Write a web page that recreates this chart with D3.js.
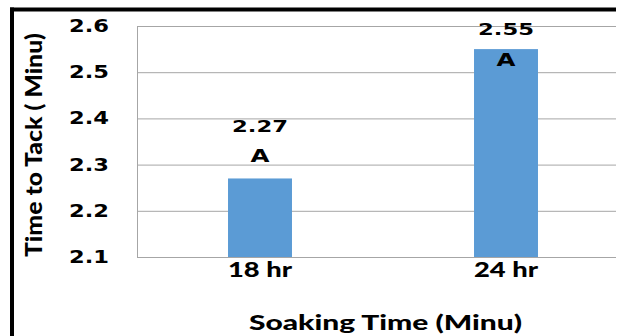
<!DOCTYPE html>
<html>
<head>
<meta charset="utf-8">
<script src="https://cdn.jsdelivr.net/npm/d3@7"></script>
<style>
  html, body { margin: 0; padding: 0; background: #fff; overflow: hidden; }
  svg { display: block; overflow: hidden; }
</style>
</head>
<body>
<svg id="chart" width="617" height="336"></svg>
<script>
// Soaking time vs. time to tack
const categories = ["18 hr", "24 hr"];
const values = [2.27, 2.55];
const letters = ["A", "A"];
const yTicks = [2.1, 2.2, 2.3, 2.4, 2.5, 2.6];

const W = 617, H = 336;
const svg = d3.select("#chart");
const numFont = "'DejaVu Sans', Verdana, sans-serif";
const txtFont = "Lato, 'Open Sans', sans-serif";

// Plot area runs past the right edge of the view
const plot = { left: 137, right: 629, top: 26, bottom: 257 };

const x = d3.scaleBand()
  .domain(categories)
  .range([plot.left, plot.right])
  .paddingInner(0.74)
  .paddingOuter(0.37);

const y = d3.scaleLinear()
  .domain([2.1, 2.6])
  .range([plot.bottom, plot.top]);

// Gridlines
svg.append("g")
  .selectAll("line")
  .data(yTicks)
  .join("line")
  .attr("x1", plot.left)
  .attr("x2", W - 1)
  .attr("y1", d => y(d) + 0.5)
  .attr("y2", d => y(d) + 0.5)
  .attr("stroke", "#a6a6a6")
  .attr("stroke-width", 1);

// Left axis line
svg.append("line")
  .attr("x1", plot.left + 0.5).attr("x2", plot.left + 0.5)
  .attr("y1", plot.top).attr("y2", plot.bottom + 1)
  .attr("stroke", "#a6a6a6");

// Bars
svg.append("g")
  .selectAll("rect")
  .data(values)
  .join("rect")
  .attr("x", (d, i) => x(categories[i]))
  .attr("width", x.bandwidth())
  .attr("y", d => y(d))
  .attr("height", d => y(2.1) - y(d))
  .attr("fill", "#5b9bd5");

// Y tick labels
svg.append("g")
  .selectAll("text")
  .data(yTicks)
  .join("text")
  .attr("x", 109)
  .attr("y", d => y(d) + 6)
  .attr("text-anchor", "end")
  .attr("font-family", numFont)
  .attr("font-weight", "bold")
  .attr("font-size", 17)
  .attr("textLength", 40)
  .attr("lengthAdjust", "spacingAndGlyphs")
  .text(d => d.toFixed(1));

// Value labels and letter groups
values.forEach((v, i) => {
  const cx = x(categories[i]) + x.bandwidth() / 2;
  const top = y(v);
  const roomAbove = top - plot.top > 40;
  const valueY = roomAbove ? top - 46.5 : top - 14;
  const letterY = roomAbove ? top - 16.5 : top + 17;
  svg.append("text")
    .attr("x", cx)
    .attr("y", valueY)
    .attr("text-anchor", "middle")
    .attr("font-family", numFont)
    .attr("font-weight", "bold")
    .attr("font-size", 16.5)
    .attr("textLength", 56)
    .attr("lengthAdjust", "spacingAndGlyphs")
    .text(v.toFixed(2));
  svg.append("text")
    .attr("x", cx)
    .attr("y", letterY)
    .attr("text-anchor", "middle")
    .attr("font-family", numFont)
    .attr("font-weight", "bold")
    .attr("font-size", 17.5)
    .attr("textLength", 19)
    .attr("lengthAdjust", "spacingAndGlyphs")
    .text(letters[i]);
});

// X category labels
svg.append("g")
  .selectAll("text")
  .data(categories)
  .join("text")
  .attr("x", d => x(d) + x.bandwidth() / 2)
  .attr("y", 277)
  .attr("text-anchor", "middle")
  .attr("font-family", txtFont)
  .attr("font-weight", 900)
  .attr("font-size", 21)
  .attr("textLength", 64)
  .attr("lengthAdjust", "spacingAndGlyphs")
  .text(d => d);

// Axis titles
svg.append("text")
  .attr("x", 385.5)
  .attr("y", 330)
  .attr("text-anchor", "middle")
  .attr("font-family", txtFont)
  .attr("font-weight", 900)
  .attr("font-size", 21)
  .attr("textLength", 273)
  .attr("lengthAdjust", "spacingAndGlyphs")
  .text("Soaking Time (Minu)");

svg.append("text")
  .attr("transform", "translate(42,145) rotate(-90)")
  .attr("text-anchor", "middle")
  .attr("font-family", txtFont)
  .attr("font-weight", 900)
  .attr("font-size", 23.5)
  .attr("textLength", 224)
  .attr("lengthAdjust", "spacingAndGlyphs")
  .text("Time to Tack ( Minu)");

// Frame: left and top edges
svg.append("line")
  .attr("x1", 12).attr("x2", 12)
  .attr("y1", 7.5).attr("y2", H)
  .attr("stroke", "#000").attr("stroke-width", 4);
svg.append("line")
  .attr("x1", 10).attr("x2", W - 1)
  .attr("y1", 9.5).attr("y2", 9.5)
  .attr("stroke", "#000").attr("stroke-width", 4);
</script>
</body>
</html>
